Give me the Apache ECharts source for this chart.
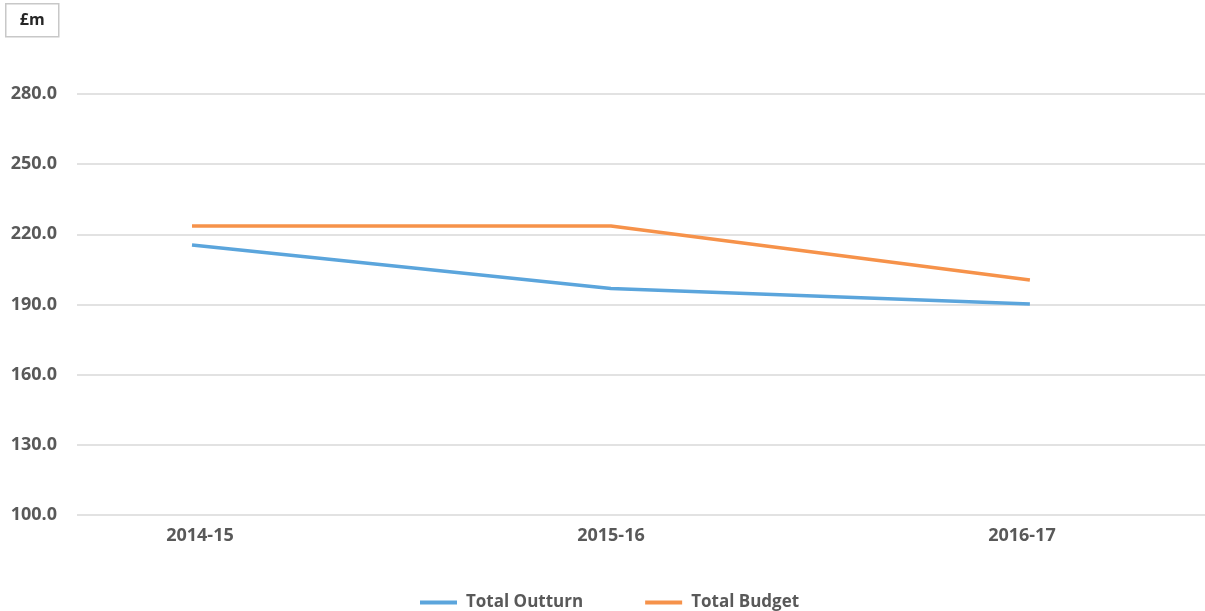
<!DOCTYPE html>
<html><head><meta charset="utf-8">
<script src="https://cdn.jsdelivr.net/npm/echarts@6/dist/echarts.min.js"></script>
<style>html,body{margin:0;padding:0;background:#fff}#c{width:1205px;height:611px}</style>
</head><body><div id="c"></div>
<script>
var categories = ['2014-15', '2015-16', '2016-17'];
var outturn = [215.4, 196.8, 190.2];
var budget = [223.6, 223.6, 200.5];
var seriesNames = ['Total Outturn', 'Total Budget'];
var yTicks = [100, 130, 160, 190, 220, 250, 280];

var FONT = '"Open Sans", "Noto Sans", sans-serif';
function pairs(arr){ return arr.map(function(v,i){ return [i, v]; }); }

var chart = echarts.init(document.getElementById('c'));
chart.setOption({
  animation: false,
  grid: { left: 77, right: 0, top: 94, bottom: 96, containLabel: false },
  graphic: [{
    type: 'group', left: 5, top: 3,
    children: [
      { type: 'rect', shape: { x: 0, y: 0, width: 53, height: 33 }, style: { fill: '#fff', stroke: '#c8c8c8', lineWidth: 1.5 } },
      { type: 'text', x: 26.5, y: 17, style: { text: '£m', fill: '#262626', font: 'bold 16px ' + FONT, align: 'center', verticalAlign: 'middle' } }
    ]
  }],
  xAxis: {
    type: 'value', min: -0.2745, max: 2.418,
    splitLine: { show: false }, axisLine: { show: false }, axisTick: { show: false },
    axisLabel: {
      customValues: [0.019, 1, 1.981], margin: 12,
      color: '#595959', fontSize: 18, fontWeight: 'bold', fontFamily: FONT,
      formatter: function(v){ return categories[Math.round(v)] || ''; }
    }
  },
  yAxis: {
    type: 'value', min: yTicks[0], max: yTicks[yTicks.length-1], interval: 30,
    axisLine: { show: false }, axisTick: { show: false },
    splitLine: { lineStyle: { color: '#d9d9d9', width: 1.5 } },
    axisLabel: { margin: 20, color: '#595959', fontSize: 18, fontWeight: 'bold', fontFamily: FONT,
      formatter: function(v){ return v.toFixed(1); } }
  },
  legend: {
    top: 589, left: 415, itemWidth: 37, itemHeight: 4, itemGap: 62, icon: 'rect',
    textStyle: { color: '#595959', fontSize: 17, fontWeight: 'bold', fontFamily: FONT, padding: [0, 0, 0, 4] },
    data: seriesNames
  },
  series: [
    { name: seriesNames[0], type: 'line', data: pairs(outturn), symbol: 'none', lineStyle: { color: '#5ba5dc', width: 3.5 }, itemStyle: { color: '#5ba5dc' } },
    { name: seriesNames[1], type: 'line', data: pairs(budget), symbol: 'none', lineStyle: { color: '#f6924a', width: 3.5 }, itemStyle: { color: '#f6924a' } }
  ]
});
</script></body></html>
